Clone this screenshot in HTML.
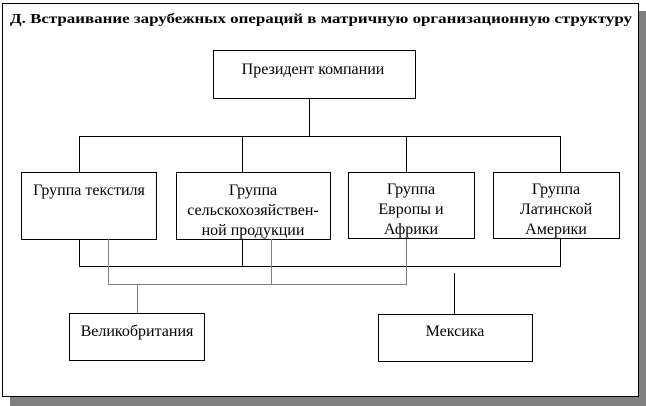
<!DOCTYPE html>
<html><head><meta charset="utf-8"><style>
html,body{margin:0;padding:0;background:#fff;}
svg{display:block;}
text{font-family:"Liberation Serif","DejaVu Serif",serif;font-size:16px;fill:#000;}
</style></head><body>
<svg width="646" height="406" viewBox="0 0 646 406" xmlns="http://www.w3.org/2000/svg">
<rect x="10" y="11" width="636" height="395" fill="#808080"/>
<rect x="2.5" y="3.5" width="636" height="393" fill="#fff" stroke="#000" stroke-width="1"/>
<text x="10" y="23" textLength="622" lengthAdjust="spacingAndGlyphs" style="font-size:14px;font-weight:bold">Д. Встраивание зарубежных операций в матричную организационную структуру</text>
<g fill="none" stroke="#000" stroke-width="1">
<rect x="213.5" y="50.5" width="202" height="48"/>
<line x1="309.5" y1="98" x2="309.5" y2="136"/>
<line x1="79" y1="136.5" x2="561" y2="136.5"/>
<line x1="79.5" y1="136" x2="79.5" y2="172"/>
<line x1="242.5" y1="136" x2="242.5" y2="172"/>
<line x1="406.5" y1="136" x2="406.5" y2="172"/>
<line x1="560.5" y1="136" x2="560.5" y2="172"/>
<rect x="21.5" y="172.5" width="135" height="67"/>
<rect x="176.5" y="172.5" width="154" height="67"/>
<rect x="348.5" y="172.5" width="126" height="66"/>
<rect x="493.5" y="172.5" width="126" height="66"/>
<line x1="79.5" y1="239" x2="79.5" y2="267"/>
<line x1="242.5" y1="239" x2="242.5" y2="267"/>
<line x1="560.5" y1="239" x2="560.5" y2="267"/>
<line x1="79" y1="266.5" x2="561" y2="266.5"/>
<line x1="454.5" y1="273" x2="454.5" y2="314"/>
<rect x="69.5" y="313.5" width="135" height="47"/>
<rect x="378.5" y="314.5" width="154" height="47"/>
</g>
<g fill="none" stroke="#808080" stroke-width="1">
<line x1="108.5" y1="239" x2="108.5" y2="285"/>
<line x1="271.5" y1="239" x2="271.5" y2="285"/>
<line x1="406.5" y1="239" x2="406.5" y2="285"/>
<line x1="108" y1="284.5" x2="407" y2="284.5"/>
<line x1="137.5" y1="285" x2="137.5" y2="313"/>
</g>
<g text-anchor="middle">
<text x="313" y="74">Президент компании</text>
<text x="89" y="195">Группа текстиля</text>
<text x="253" y="195">Группа</text>
<text x="253" y="215">сельскохозяйствен-</text>
<text x="253" y="235">ной продукции</text>
<text x="411" y="194">Группа</text>
<text x="411" y="214">Европы и</text>
<text x="411" y="234">Африки</text>
<text x="556" y="194">Группа</text>
<text x="556" y="214">Латинской</text>
<text x="556" y="234">Америки</text>
<text x="137" y="336">Великобритания</text>
<text x="455" y="336">Мексика</text>
</g>
</svg>
</body></html>
